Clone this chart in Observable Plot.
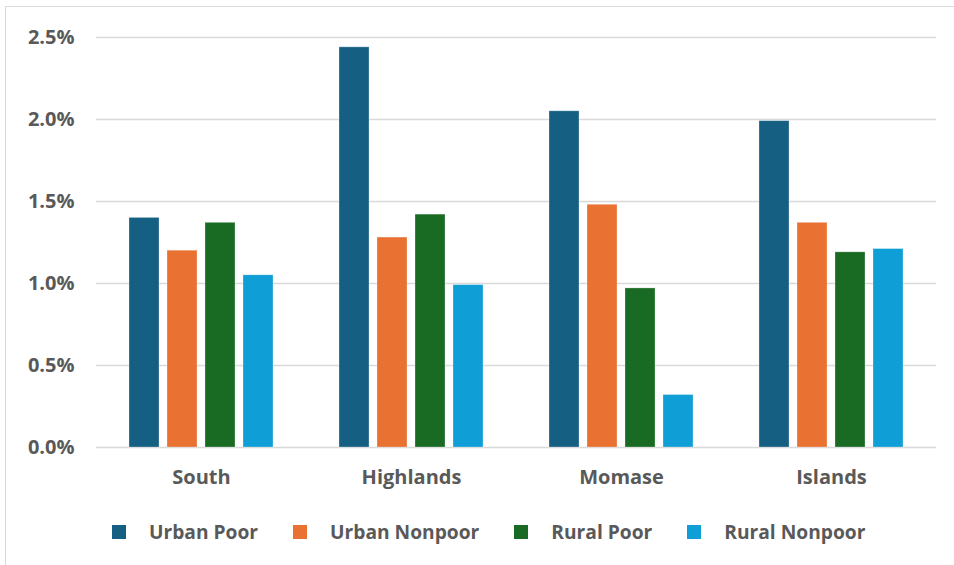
<!DOCTYPE html>
<html>
<head>
<meta charset="utf-8">
<script src="https://cdn.jsdelivr.net/npm/d3@7"></script>
<script src="https://cdn.jsdelivr.net/npm/@observablehq/plot@0.6"></script>
<style>
  html, body { margin: 0; padding: 0; background: #fff; overflow: hidden; }
  #wrap { position: relative; width: 954px; height: 565px; overflow: hidden; font-family: "Open Sans", "Liberation Sans", sans-serif; }
  #frame { position: absolute; left: 5px; top: 6px; width: 1000px; height: 600px; border: 1.5px solid #d9d9d9; box-sizing: border-box; }
  #chart { position: absolute; left: 0; top: 0; }
  #legend { position: absolute; left: 112px; top: 518px; display: flex; align-items: center; gap: 35px; }
  .item { display: flex; align-items: center; font-weight: 700; font-size: 19.2px; color: #595959; }
  .sw { width: 14px; height: 14px; margin-right: 23px; }
</style>
</head>
<body>
<div id="wrap">
  <div id="frame"></div>
  <div id="chart"></div>
  <div id="legend"></div>
</div>
<script>
const regions = ["South", "Highlands", "Momase", "Islands"];
const series = ["Urban Poor", "Urban Nonpoor", "Rural Poor", "Rural Nonpoor"];
const colors = ["#156082", "#E97132", "#196B24", "#0F9ED5"];
const urbanPoor = [1.40, 2.44, 2.05, 1.99];
const urbanNonpoor = [1.20, 1.28, 1.48, 1.37];
const ruralPoor = [1.37, 1.42, 0.97, 1.19];
const ruralNonpoor = [1.05, 0.99, 0.32, 1.21];
const yTicks = [0, 0.5, 1.0, 1.5, 2.0, 2.5];

const seriesValues = [urbanPoor, urbanNonpoor, ruralPoor, ruralNonpoor];
const data = [];
regions.forEach((r, i) => {
  series.forEach((s, j) => data.push({region: r, series: s, value: seriesValues[j][i]}));
});

const chart = Plot.plot({
  width: 954,
  height: 500,
  marginLeft: 94,
  marginRight: 17,
  marginTop: 37,
  marginBottom: 53,
  style: {fontFamily: '"Open Sans", "Liberation Sans", sans-serif', fontWeight: 700, fontSize: "20px", color: "#595959", background: "transparent"},
  fx: {domain: regions, padding: 0, label: null},
  x: {domain: series, axis: null, paddingInner: 0.215, paddingOuter: 0.865},
  y: {domain: [0, 2.5], label: null},
  color: {domain: series, range: colors},
  marks: [
    Plot.gridY(yTicks, {stroke: "#d9d9d9", strokeOpacity: 1, strokeWidth: 1.5}),
    Plot.barY(data, {fx: "region", x: "series", y: "value", fill: "series", stroke: "#ffffff", strokeOpacity: 0.35, strokeWidth: 0.8}),
    Plot.axisY(yTicks, {tickSize: 0, tickPadding: 22, tickFormat: d => d.toFixed(1) + "%", label: null, fill: "#595959"}),
    Plot.axisFx({anchor: "bottom", tickSize: 0, tickPadding: 22, label: null, fill: "#595959"})
  ]
});
document.getElementById("chart").appendChild(chart);

const legend = document.getElementById("legend");
series.forEach((s, i) => {
  const item = document.createElement("div");
  item.className = "item";
  const sw = document.createElement("span");
  sw.className = "sw";
  sw.style.background = colors[i];
  item.appendChild(sw);
  item.appendChild(document.createTextNode(s));
  legend.appendChild(item);
});
</script>
</body>
</html>
